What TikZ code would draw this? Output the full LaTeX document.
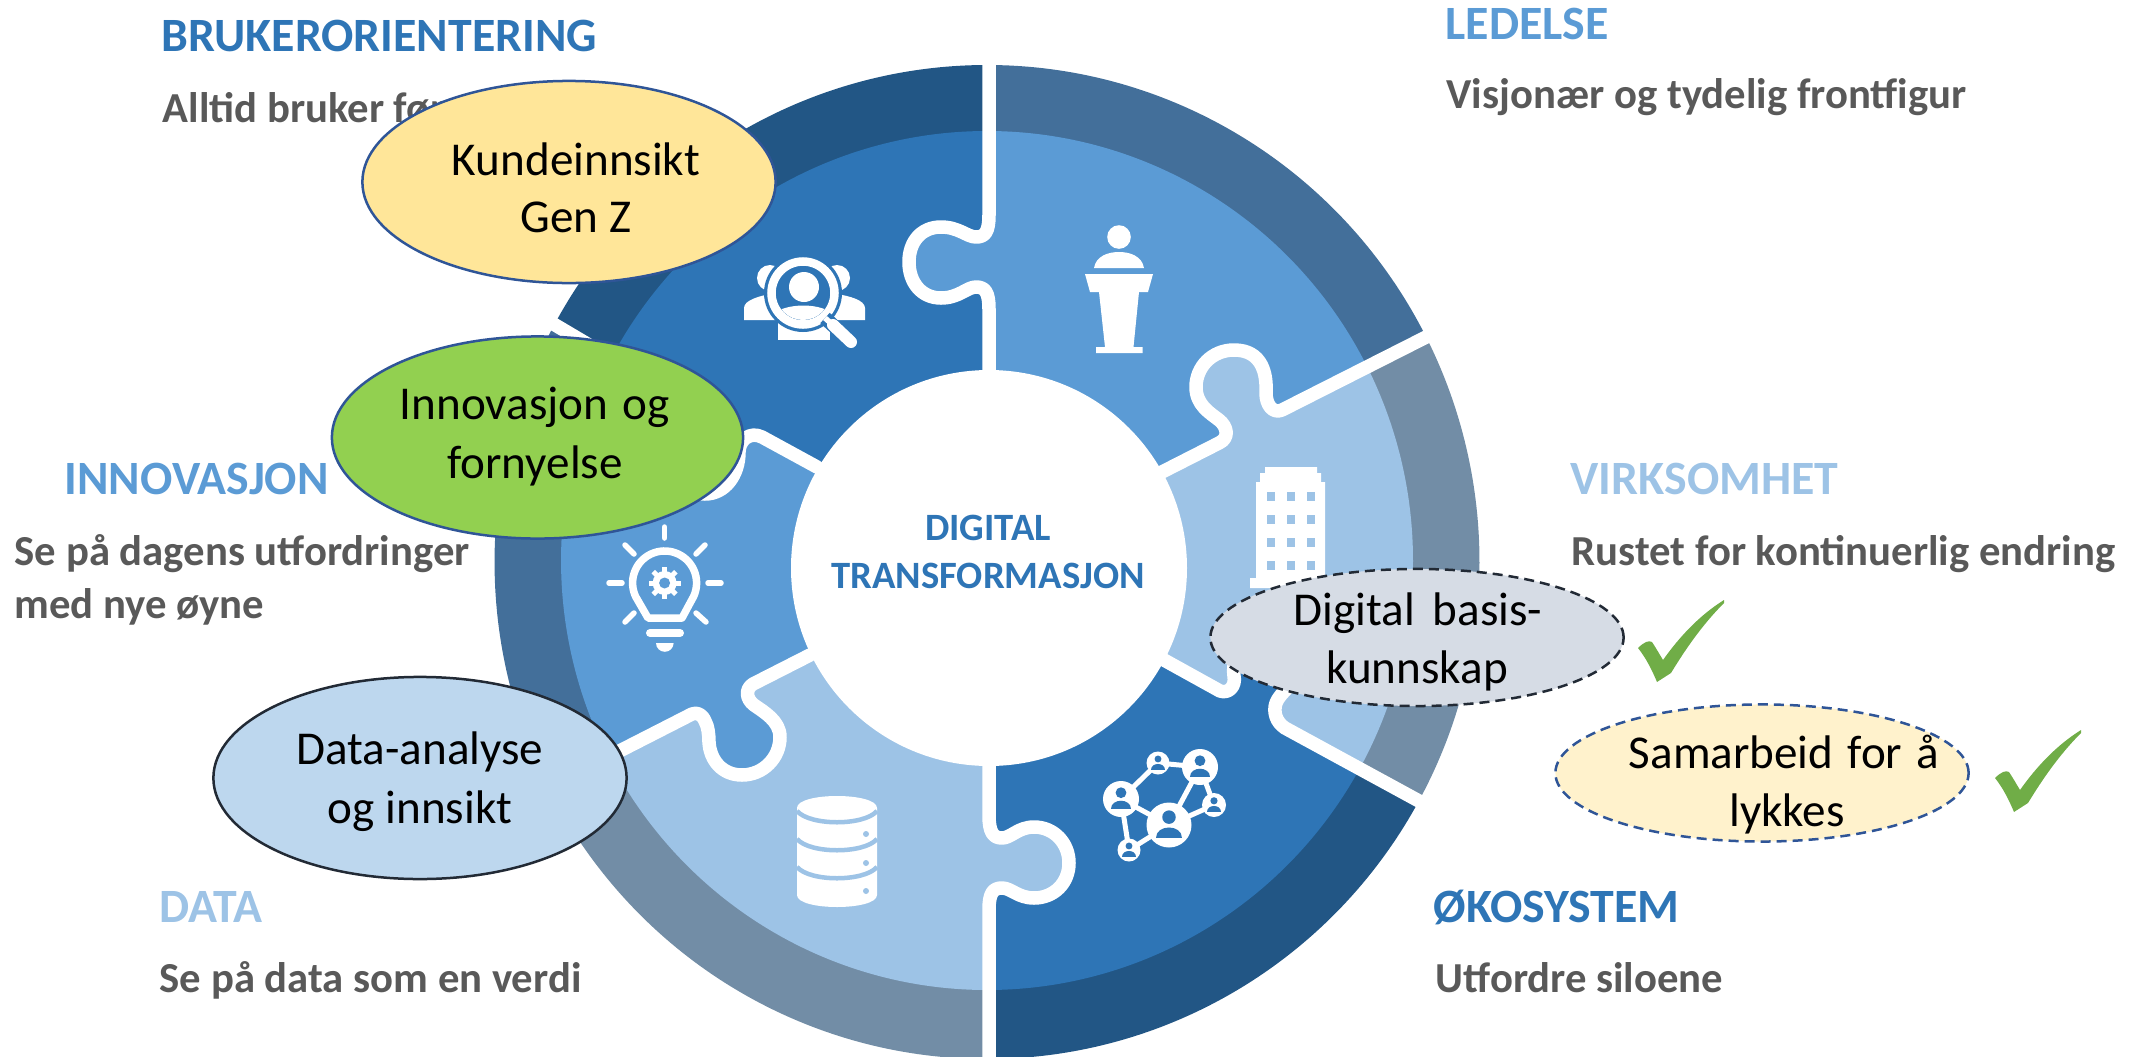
\documentclass[tikz,border=0pt]{standalone}
\usepackage{fontspec}
\setmainfont{Carlito}
\usetikzlibrary{shapes.geometric}

\definecolor{blaamorkYtre}{HTML}{225685}
\definecolor{blaamork}{HTML}{2E75B6}
\definecolor{blaamidYtre}{HTML}{436F9A}
\definecolor{blaamid}{HTML}{5B9BD5}
\definecolor{blaalysYtre}{HTML}{728DA6}
\definecolor{blaalys}{HTML}{9DC3E6}
\definecolor{graatekst}{HTML}{595959}
\definecolor{gulsterk}{HTML}{FFE699}
\definecolor{gullys}{HTML}{FFF2CC}
\definecolor{gronn}{HTML}{92D050}
\definecolor{databoble}{HTML}{BDD7EE}
\definecolor{graaboble}{HTML}{D6DCE5}
\definecolor{kant}{HTML}{2F5597}
\definecolor{kantmork}{HTML}{222A35}
\definecolor{hakefarge}{HTML}{70AD47}

\tikzset{
  naad/.style={white, line width=0.135cm, line join=round, line cap=round},
  tittel/.style={anchor=base west, inner sep=0, font=\bfseries\fontsize{13.6}{16}\selectfont},
  undertekst/.style={anchor=base west, inner sep=0, text=graatekst, font=\bfseries\fontsize{12.15}{14}\selectfont},
  midttekst/.style={anchor=base, inner sep=0, text=blaamork, font=\bfseries\fontsize{11}{13}\selectfont},
  boble/.style={ellipse, draw=kant, line width=0.025cm, inner sep=0, minimum width=4.13cm, minimum height=2.02cm},
  stiplet/.style={boble, minimum height=1.37cm, dash pattern=on 0.1cm off 0.06cm},
  bobletekst/.style={anchor=base, inner sep=0, text=black, font=\fontsize{13.4}{16}\selectfont},
  straale/.style={white, line width=0.055cm, line cap=round}
}

\begin{document}
\begin{tikzpicture}[x=0.01cm,y=-0.01cm]
\useasboundingbox (0,0) rectangle (2144,1057);
\clip (0,0) rectangle (2144,1057);

% ring
\foreach \vinkelA/\vinkelB/\ytre/\midt in {-90/-27/blaamidYtre/blaamid, -27/29/blaalysYtre/blaalys, 29/90/blaamorkYtre/blaamork, 90/153.3/blaalysYtre/blaalys, 153.3/208.6/blaamidYtre/blaamid, 208.6/270/blaamorkYtre/blaamork} {
  \fill[\ytre] (987,562) -- +(\vinkelA:492.5 and 497) arc [start angle=\vinkelA, end angle=\vinkelB, x radius=492.5, y radius=497] -- cycle;
  \fill[\midt] (987,560.5) -- +(\vinkelA:426 and 429.5) arc [start angle=\vinkelA, end angle=\vinkelB, x radius=426, y radius=429.5] -- cycle;
}

% puzzle tabs
\def\knastA{.. controls (989,232) and (985,237) .. (976,237) .. controls (967,237) and (959,227) .. (941,227) .. controls (921,227) and (909,242) .. (909,262) .. controls (909,282) and (921,298) .. (941,298) .. controls (959,298) and (967,287) .. (976,287) .. controls (985,287) and (989,292) .. (989,309)}
\def\knastB{.. controls (1273,414) and (1266,405) .. (1266,393) .. controls (1267,375) and (1263,350) .. (1234,350) .. controls (1212,350) and (1196,367) .. (1196,387) .. controls (1196,405) and (1210,413) .. (1219,420) .. controls (1227,426) and (1230,438) .. (1219,443)}
\def\knastC{.. controls (1229,694) and (1236,686) .. (1234,676) .. controls (1232,660) and (1240,625) .. (1270,625) .. controls (1295,625) and (1305,650) .. (1298,670) .. controls (1295,685) and (1280,692) .. (1276,703) .. controls (1273,712) and (1276,722) .. (1285,728)}
\def\knastD{.. controls (989,832) and (993,838) .. (1002,838) .. controls (1011,838) and (1018,827) .. (1034,827) .. controls (1054,827) and (1069,843) .. (1069,863) .. controls (1069,883) and (1054,898) .. (1034,898) .. controls (1018,898) and (1011,888) .. (1002,888) .. controls (993,888) and (989,893) .. (989,910)}
\def\knastE{.. controls (745,689) and (746,699) .. (754,705) .. controls (764,712) and (780,721) .. (780,737) .. controls (780,758) and (763,775) .. (742,775) .. controls (722,775) and (710,760) .. (709,742) .. controls (709,735) and (708,726) .. (705,721) .. controls (702,714) and (697,712) .. (692,714)}
\def\knastF{.. controls (750,431) and (739,440) .. (739,452) .. controls (739,475) and (725,494) .. (705,494) .. controls (680,494) and (662,478) .. (660,455) .. controls (660,435) and (668,420) .. (668,410) .. controls (668,400) and (660,387) .. (655,384)}
\fill[blaamid] (989,215) \knastA -- (1000,262) -- cycle;
\fill[blaalys] (1282,410) \knastB -- (1257,440) -- cycle;
\fill[blaamork] (1220,691) \knastC -- (1245,722) -- cycle;
\fill[blaalys] (989,815) \knastD -- (975,862) -- cycle;
\fill[blaamid] (753,684) \knastE -- (715,685) -- cycle;
\fill[blaamork] (762,437) \knastF -- (716,400) -- cycle;
\draw[naad] (989,50) -- (989,215) \knastA -- (989,375);
\draw[naad] (1440,330) -- (1282,410) \knastB -- (1162,472);
\draw[naad] (1164,660) -- (1220,691) \knastC -- (1430,807);
\draw[naad] (989,760) -- (989,815) \knastD -- (989,1070);
\draw[naad] (810,655) -- (753,684) \knastE -- (600,761);
\draw[naad] (817,467) -- (762,437) \knastF -- (540,316);
\fill[white] (989,568) circle [radius=198];

% headings
\node[tittel, text=blaamork] (brukerTittel) at (161,51) {BRUKERORIENTERING};
\node[undertekst] (brukerTekst) at (162,122) {Alltid bruker først};
\node[tittel, text=blaamid] (ledelseTittel) at (1445,39) {LEDELSE};
\node[undertekst] (ledelseTekst) at (1446,108) {Visjonær og tydelig frontfigur};
\node[tittel, text=blaamid] (innovasjonTittel) at (64,494) {INNOVASJON};
\node[undertekst] (innovasjonTekstA) at (14,565) {Se på dagens utfordringer};
\node[undertekst] (innovasjonTekstB) at (14,618) {med nye øyne};
\node[tittel, text=blaalys] (virksomhetTittel) at (1570,494) {VIRKSOMHET};
\node[undertekst] (virksomhetTekst) at (1571,565) {Rustet for kontinuerlig endring};
\node[tittel, text=blaalys] (dataTittel) at (159,922) {DATA};
\node[undertekst] (dataTekst) at (159,992) {Se på data som en verdi};
\node[tittel, text=blaamork] (okoTittel) at (1433,922) {ØKOSYSTEM};
\node[undertekst] (okoTekst) at (1435,992) {Utfordre siloene};
\node[midttekst] (midtA) at (988,540) {DIGITAL};
\node[midttekst] (midtB) at (988,588) {TRANSFORMASJON};

% podium
\fill[white] (1119,237) circle [radius=11.8];
\fill[white] (1094,268) .. controls (1096,256) and (1108,252) .. (1119,252) .. controls (1130,252) and (1142,256) .. (1144,268) -- cycle;
\fill[white] (1085,274) -- (1153,274) -- (1148,292) -- (1139,292) -- (1133.5,347) -- (1142.5,347) -- (1142.5,353) -- (1096,353) -- (1096,347) -- (1105,347) -- (1099,292) -- (1090,292) -- cycle;

% building
\fill[white] (1265,467) -- (1317,467) -- (1317,473) -- (1321,473) -- (1321,482) -- (1325,482) -- (1325,578) -- (1332,578) -- (1332,588) -- (1250,588) -- (1250,578) -- (1256,578) -- (1256,482) -- (1260,482) -- (1260,473) -- (1265,473) -- cycle;
\foreach \vinduX in {1266.5,1286.5,1306.5}
  \foreach \vinduY in {492,515,538,561}
    \fill[blaalys] (\vinduX,\vinduY) rectangle +(8.5,8.5);

% bulb
\draw[white, line width=0.075cm, line join=round] (648,618) -- (635.6,596.5) arc [start angle=155, end angle=385, radius=32] -- (682,618) -- cycle;
\foreach \ax/\ay/\bx/\by in {664.6/527/664.6/538, 609/583/622/583, 708/583/721/583, 625/545/634/554, 705/545/696/554, 625/622/634/613, 706/622/696/613}
  \draw[straale] (\ax,\ay) -- (\bx,\by);
\draw[white, line width=0.08cm, line cap=round] (650,633) -- (680,633);
\fill[white] (656,643) -- (673.6,643) arc [start angle=0, end angle=180, radius=8.8] -- cycle;
\fill[white] (664.6,583) circle [radius=12];
\foreach \tann in {0,45,...,315}
  \draw[white, line width=0.05cm] (664.6,583) -- +(\tann:16);
\fill[blaamid] (664.6,583) circle [radius=5.5];

% database
\fill[white] (797,808) .. controls (797,792) and (877,792) .. (877,808) -- (877,895) .. controls (877,911) and (797,911) .. (797,895) -- cycle;
\foreach \skive in {811,839,867}
  \draw[blaalys, line width=0.045cm] (797,\skive) .. controls (810,\skive+15) and (864,\skive+15) .. (877,\skive);
\foreach \prikkY in {834,863,891}
  \fill[blaalys] (866,\prikkY) circle [radius=3];

% network
\draw[white, line width=0.05cm] (1121,799) -- (1158,763) -- (1200,767) -- (1169,825) -- (1214,805) -- (1200,767);
\draw[white, line width=0.05cm] (1121,799) -- (1169,825) -- (1129,850) -- (1121,799);
\foreach \px/\py/\pr in {1121/799/18, 1158/763/11.5, 1200/767/18, 1214/805/12, 1169/825/22.5, 1129/850/11.5} {
  \fill[white] (\px,\py) circle [radius=\pr];
  \fill[blaamork] (\px,\py-0.35*\pr) circle [radius=0.3*\pr];
  \fill[blaamork] (\px-0.58*\pr,\py+0.58*\pr) .. controls (\px-0.58*\pr,\py-0.05*\pr) and (\px+0.58*\pr,\py-0.05*\pr) .. (\px+0.58*\pr,\py+0.58*\pr) -- cycle;
}

% people and magnifier
\fill[white] (770,278) circle [radius=13];
\fill[white] (837,278) circle [radius=13];
\fill[white] (744,320) -- (744,308) .. controls (744,300) and (760,296) .. (770,294) -- (790,320) -- cycle;
\fill[white] (865,320) -- (865,308) .. controls (865,300) and (849,296) .. (837,294) -- (815,320) -- cycle;
\fill[white] (778,340) -- (778,322) -- (830,322) -- (830,340) -- cycle;
\fill[blaamork] (803,293) circle [radius=39];
\draw[white, line width=0.085cm] (803,293) circle [radius=31.5];
\fill[white] (804,287) circle [radius=15];
\begin{scope}
\clip (803,293) circle [radius=27];
\fill[white] (770,325) -- (770,316) .. controls (785,302) and (822,302) .. (836,316) -- (836,325) -- cycle;
\end{scope}
\draw[blaamork, line width=0.14cm] (825,318) -- (850,341);
\draw[white, line width=0.055cm] (825,318) -- (833,325);
\draw[white, line width=0.12cm, line cap=round] (833,325) -- (851,342);

% bubbles
\node[boble, fill=gulsterk] (kundeBoble) at (569,182) {};
\node[bobletekst] (kundeA) at (576,175) {Kundeinnsikt};
\node[bobletekst] (kundeB) at (576,232) {Gen Z};
\node[boble, fill=gronn, minimum width=4.11cm] (innovasjonBoble) at (537.5,437.5) {};
\node[bobletekst] (innovasjonA) at (535,419) {Innovasjon\hspace{0.04cm} og};
\node[bobletekst] (innovasjonB) at (535,478) {fornyelse};
\node[boble, fill=databoble, draw=kantmork] (dataBoble) at (420,778) {};
\node[bobletekst] (dataA) at (420,764) {Data-analyse};
\node[bobletekst] (dataB) at (420,823) {og innsikt};
\node[stiplet, fill=graaboble, draw=kantmork] (basisBoble) at (1417,637.5) {};
\node[bobletekst] (basisA) at (1418,625) {Digital\hspace{0.07cm} basis-};
\node[bobletekst] (basisB) at (1417,683) {kunnskap};
\node[stiplet, fill=gullys] (samarbeidBoble) at (1762,773) {};
\node[bobletekst] (samarbeidA) at (1784,768) {Samarbeid\hspace{0.035cm} for\hspace{0.035cm} å};
\node[bobletekst] (samarbeidB) at (1787,826) {lykkes};

% ticks
\foreach \hakeX/\hakeY in {0/0, 357/130}
  \fill[hakefarge, shift={(\hakeX,\hakeY)}] (1638,648) .. controls (1644,642) and (1649,640) .. (1652,642) .. controls (1656,648) and (1660,655) .. (1663,660) .. controls (1680,636) and (1700,615) .. (1724,600) -- (1724,603) .. controls (1702,625) and (1685,650) .. (1671,673) -- (1657,682) .. controls (1652,670) and (1646,658) .. (1638,648) -- cycle;
\end{tikzpicture}
\end{document}
